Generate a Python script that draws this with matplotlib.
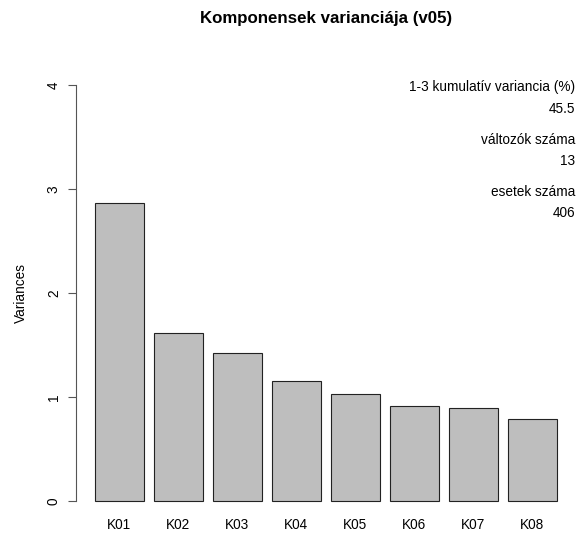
import matplotlib.pyplot as plt

plt.rcParams['font.family'] = ['Liberation Sans', 'DejaVu Sans']

components = ['K01', 'K02', 'K03', 'K04', 'K05', 'K06', 'K07', 'K08']
variances = [2.862, 1.612, 1.423, 1.157, 1.026, 0.910, 0.894, 0.785]
info_lines = ['1-3 kumulatív variancia (%)', '45.5',
              'változók száma', '13',
              'esetek száma', '406']
info_y = [87, 109, 140, 161, 192, 213]

W, H = 579, 537
fs = 9.8
fig = plt.figure(figsize=(W / 100, H / 100), dpi=100)
ax = fig.add_axes([76.2 / W, 1 - 517.6 / H, (575.5 - 76.2) / W, (517.6 - 68.4) / H])

# R barplot style positions: width 1, space 0.2
pos = [0.7 + 1.2 * i for i in range(len(components))]
ax.bar(pos, variances, width=1.0, color='#BEBEBE', edgecolor='#222222', linewidth=0.8)

ax.set_xlim(0.2 - 0.376, 9.6 + 0.376)
ax.set_ylim(-0.16, 4.16)

for s in ['top', 'right', 'bottom']:
    ax.spines[s].set_visible(False)
ax.spines['left'].set_bounds(0, 4)
ax.spines['left'].set_color('#555555')
ax.spines['left'].set_linewidth(0.8)

ax.set_yticks([0, 1, 2, 3, 4])
ax.set_yticklabels(['0', '1', '2', '3', '4'], rotation=90, va='center')
ax.tick_params(axis='y', length=5.5, width=0.8, color='#555555', pad=5.5, labelsize=fs)
ax.set_xticks(pos)
ax.set_xticklabels(components)
ax.tick_params(axis='x', length=0, pad=0.5, labelsize=fs)

ax.set_ylabel('Variances', fontsize=fs, labelpad=13.5)

# title centred over the plot region, like R
fig.text((76.2 + 575.5) / 2 / W, 1 - 18 / H, 'Komponensek varianciája (v05)', ha='center',
         va='center', fontsize=12.2, fontweight='bold')

for txt, y in zip(info_lines, info_y):
    fig.text(575 / W, 1 - y / H, txt, ha='right', va='center', fontsize=fs)

fig.savefig('out.png', dpi=100)
